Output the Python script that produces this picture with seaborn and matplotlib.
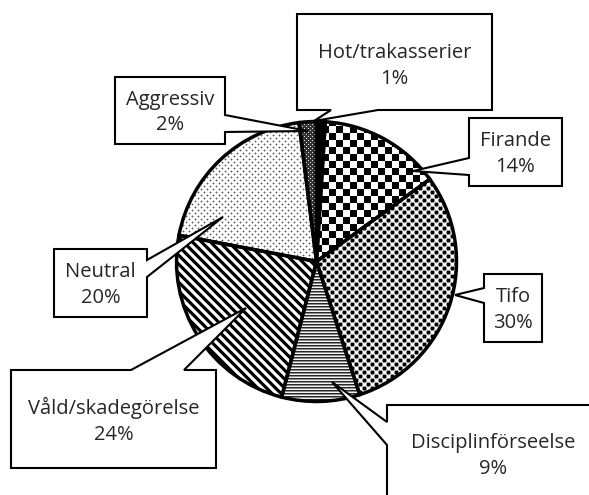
import numpy as np
import matplotlib
matplotlib.use("Agg")
import matplotlib.pyplot as plt
from matplotlib.patches import Polygon
import seaborn as sns

# Data (clockwise from 12 o'clock)
categories = ["Hot/trakasserier", "Firande", "Tifo", "Disciplinförseelse",
              "Våld/skadegörelse", "Neutral", "Aggressiv"]
shares = [1, 14, 30, 9, 24, 20, 2]

W, H = 589, 495

sns.set_style("white")
plt.rcParams["font.family"] = ["Open Sans", "DejaVu Sans"]

fig = plt.figure(figsize=(W / 100, H / 100), dpi=100)
ax = fig.add_axes([0, 0, 1, 1])


def py(y):
    # pixel row -> data y (axes use y up)
    return H - y


wedges, _ = ax.pie(shares, startangle=90, counterclock=False,
                   center=(316.5, py(261.5)), radius=140,
                   wedgeprops=dict(edgecolor="black", linewidth=2.5))

# Fill patterns (pixel textures, clipped to each wedge)
yy, xx = np.mgrid[0:H, 0:W]


def lattice(period):
    # distance to the nearest point of a staggered dot grid
    half = period / 2
    a = np.hypot((xx % period) - half, (yy % period) - half)
    b = np.hypot(((xx + half) % period) - half, ((yy + half) % period) - half)
    return np.minimum(a, b)


d8 = lattice(8)
d6 = lattice(6)
d4 = lattice(4)
stripe = np.cos(2 * np.pi * (xx - yy) / 9)

textures = {
    "Firande": np.where(((xx // 7 + yy // 7) % 2) == 0, 0.0, 1.0),
    "Tifo": np.select([d8 <= 1.5, d8 <= 2.5], [0.0, 0.55], 1.0),
    "Disciplinförseelse": np.choose(yy % 3, [0.15, 0.55, 0.95]),
    "Våld/skadegörelse": np.clip(0.5 + 1.3 * stripe, 0, 1),
    "Neutral": np.select([d6 < 0.5, d6 <= 1.0], [0.35, 0.75], 1.0),
    "Aggressiv": np.where(d4 < 0.5, 0.9, 0.2),
}

for cat, w in zip(categories, wedges):
    w.set_zorder(2)
    if cat in textures:
        w.set_facecolor("none")
        im = ax.imshow(textures[cat], cmap="gray", vmin=0, vmax=1,
                       extent=(0, W, 0, H), origin="upper",
                       interpolation="nearest", zorder=1)
        im.set_clip_path(w)
    else:
        w.set_facecolor("black")


def callout(text, box, side, base, tip, text_xy=None):
    """Box with a pointer (Excel style data callout), in pixel coords."""
    x0, y0, x1, y1 = box
    a, b = base
    pts = [(x0, y0)]
    if side == "top":
        pts += [(a, y0), tip, (b, y0)]
    pts.append((x1, y0))
    if side == "right":
        pts += [(x1, a), tip, (x1, b)]
    pts.append((x1, y1))
    if side == "bottom":
        pts += [(b, y1), tip, (a, y1)]
    pts.append((x0, y1))
    if side == "left":
        pts += [(x0, b), tip, (x0, a)]
    poly = Polygon([(x, py(y)) for x, y in pts], closed=True,
                   facecolor="white", edgecolor="black", linewidth=1.5,
                   joinstyle="miter", zorder=3)
    ax.add_patch(poly)
    tx, ty = text_xy or ((x0 + x1) / 2, (y0 + y1) / 2 + 2)
    ax.text(tx, py(ty), text, ha="center", va="center", fontsize=14.5,
            linespacing=1.35, zorder=4)


# label layout: box, side of pointer, pointer base, pointer tip, text centre
layout = {
    "Hot/trakasserier": ((297, 14, 492, 110), "bottom", (331, 378), (314, 121), (394.5, 66)),
    "Firande": ((469, 118, 562, 186), "left", (158, 175), (413, 171), None),
    "Tifo": ((484, 274, 542, 342), "left", (288, 303), (455, 295), None),
    "Disciplinförseelse": ((387, 405, 600, 510), "left", (422, 445), (332, 382), (493, 456)),
    "Våld/skadegörelse": ((11, 370, 216, 468), "top", (131, 184), (246, 308), None),
    "Neutral": ((54, 249, 147, 317), "right", (260, 277), (223, 217), None),
    "Aggressiv": ((115, 77, 225, 144), "right", (115, 132), (308, 131), None),
}

for cat, share in zip(categories, shares):
    box, side, base, tip, txy = layout[cat]
    callout(f"{cat}\n{share}%", box, side, base, tip, txy)

ax.set_xlim(0, W)
ax.set_ylim(0, H)
ax.set_aspect("equal")
ax.axis("off")

fig.savefig("out.png", dpi=100)
plt.close(fig)
